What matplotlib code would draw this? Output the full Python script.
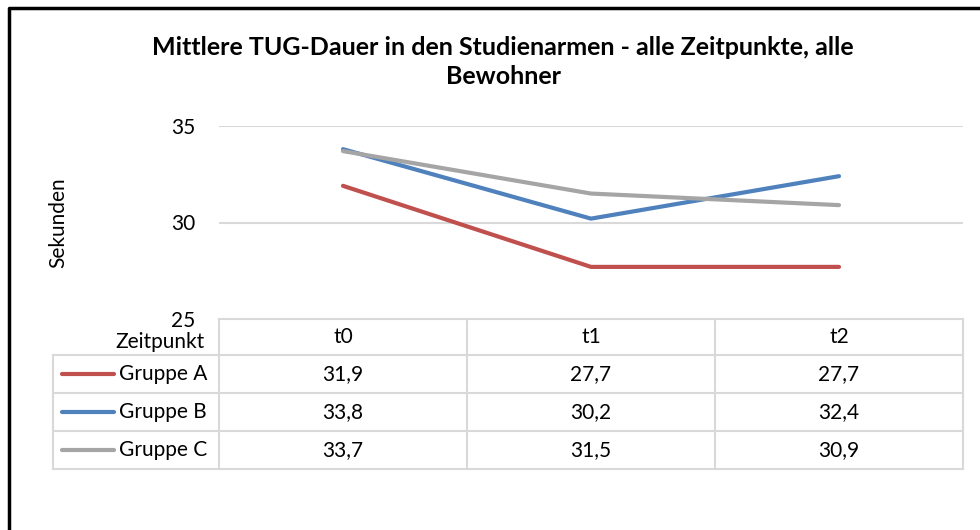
import matplotlib.pyplot as plt

# data
zeitpunkte = ['t0', 't1', 't2']
gruppen = ['Gruppe A', 'Gruppe B', 'Gruppe C']
gruppe_a = [31.9, 27.7, 27.7]
gruppe_b = [33.8, 30.2, 32.4]
gruppe_c = [33.7, 31.5, 30.9]
farben = ['#C0504D', '#4F81BD', '#A5A5A5']
yticks = [25, 30, 35]

plt.rcParams['font.family'] = ['Lato', 'DejaVu Sans']

W, H = 980, 530
fig = plt.figure(figsize=(W / 100, H / 100), dpi=100)

# pixel layout
x0, x1 = 219, 963
ytop, ybot = 126, 319
cell_w = (x1 - x0) / len(zeitpunkte)
leg_x = 53
row_h = 38
head_h = 36
fs = 15

def fx(px):
    return px / W

def fy(py):
    return 1 - py / H

ax = fig.add_axes([fx(x0), fy(ybot), fx(x1) - fx(x0), (ybot - ytop) / H])
serien = [gruppe_a, gruppe_b, gruppe_c]
for werte, farbe in zip(serien, farben):
    ax.plot(range(len(zeitpunkte)), werte, color=farbe, lw=3, solid_capstyle='round')
ax.set_xlim(-0.5, len(zeitpunkte) - 0.5)
ax.set_ylim(25, 35)
ax.set_yticks(yticks)
ax.set_yticklabels([str(t) for t in yticks], fontsize=fs)
ax.set_xticks([])
ax.tick_params(axis='y', length=0, pad=17)
for s in ax.spines.values():
    s.set_visible(False)
ax.grid(axis='y', color='#D9D9D9', lw=1.5)
ax.set_axisbelow(True)
ax.set_ylabel('Sekunden', fontsize=fs, labelpad=74)

# overlay in pixel coords for table and frame
ov = fig.add_axes([0, 0, 1, 1], zorder=-1)
ov.set_xlim(0, W)
ov.set_ylim(H, 0)
ov.axis('off')

# outer frame (left and top visible)
ov.plot([9, 9, W + 5], [H + 5, 8, 8], color='black', lw=2.5)

title = 'Mittlere TUG-Dauer in den Studienarmen - alle Zeitpunkte, alle\nBewohner'
ov.text(503, 62, title, ha='center', va='center', fontsize=18, fontweight='bold',
        linespacing=1.3)

gc = '#D9D9D9'
lw = 1.5
tab_bot = ybot + head_h + row_h * len(gruppen)
# vertical lines
for i in range(len(zeitpunkte) + 1):
    xx = x0 + i * cell_w
    ov.plot([xx, xx], [ybot, tab_bot], color=gc, lw=lw)
ov.plot([leg_x, leg_x], [ybot + head_h, tab_bot], color=gc, lw=lw)
# horizontal lines
ov.plot([x0, x1], [ybot, ybot], color=gc, lw=lw)
for j in range(len(gruppen) + 1):
    yy = ybot + head_h + j * row_h
    ov.plot([leg_x, x1], [yy, yy], color=gc, lw=lw)

# header
ov.text(x0 - 14, ybot + head_h / 2 + 5, 'Zeitpunkt', ha='right', va='center', fontsize=fs)
for i, z in enumerate(zeitpunkte):
    ov.text(x0 + (i + 0.5) * cell_w, ybot + head_h / 2, z, ha='center', va='center', fontsize=fs)

# rows
for j, (name, werte, farbe) in enumerate(zip(gruppen, serien, farben)):
    yc = ybot + head_h + (j + 0.5) * row_h
    ov.plot([62, 114], [yc, yc], color=farbe, lw=3, solid_capstyle='round')
    ov.text(119, yc, name, ha='left', va='center', fontsize=fs)
    for i, v in enumerate(werte):
        ov.text(x0 + (i + 0.5) * cell_w, yc, f'{v:.1f}'.replace('.', ','),
                ha='center', va='center', fontsize=fs)

fig.savefig('out.png', dpi=100)
